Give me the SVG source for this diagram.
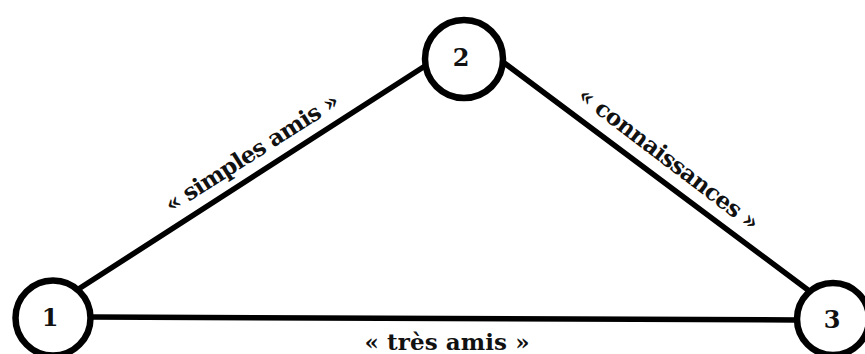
<svg xmlns="http://www.w3.org/2000/svg" width="865" height="354" viewBox="0 0 865 354">
<style>
.node circle{fill:#fff;stroke:#000;stroke-width:6.5}
.num{font-family:"DejaVu Serif","Liberation Serif",serif;font-size:24px;font-weight:bold;fill:#111;text-anchor:middle}
.edge line{stroke:#000;stroke-width:5.5;stroke-linecap:round}
.lbl{font-family:"DejaVu Serif","Liberation Serif",serif;font-size:23px;font-weight:bold;fill:#111;text-anchor:middle}
</style>
<rect width="865" height="354" fill="#fff"/>
<g id="connectors" class="edge">
<line x1="77" y1="290" x2="425" y2="66"/>
<line x1="503" y1="62" x2="808" y2="290"/>
<line x1="91" y1="317" x2="797" y2="320"/>
</g>
<g id="labels">
<text class="lbl" transform="translate(256,159) rotate(-32.5)" textLength="201" lengthAdjust="spacing">« simples amis »</text>
<text class="lbl" transform="translate(664,165) rotate(37.2)" textLength="220" lengthAdjust="spacing">« connaissances »</text>
<text class="lbl" x="447" y="350" textLength="165" lengthAdjust="spacing">« très amis »</text>
</g>
<g id="node1" class="node">
<circle cx="53" cy="318" r="37.5"/>
<text class="num" x="50" y="326">1</text>
</g>
<g id="node2" class="node">
<circle cx="464" cy="59" r="39"/>
<text class="num" x="461" y="66">2</text>
</g>
<g id="node3" class="node">
<circle cx="833" cy="319" r="36"/>
<text class="num" x="832" y="328">3</text>
</g>
</svg>
